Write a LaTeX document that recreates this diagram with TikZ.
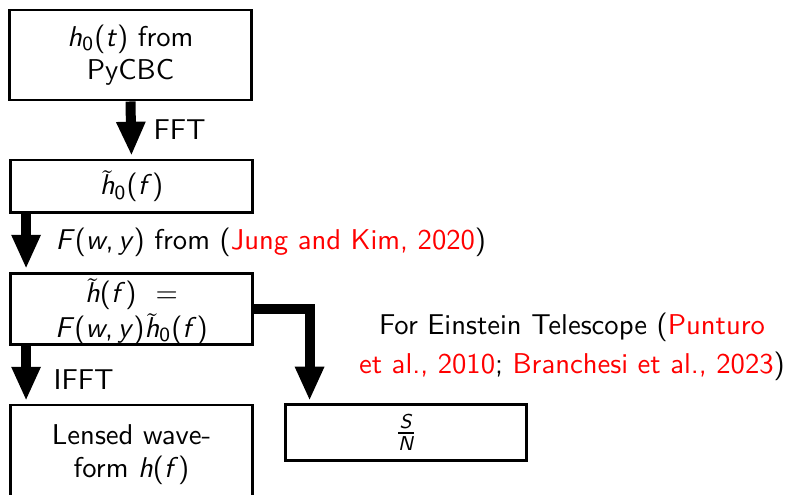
\documentclass[tikz,border=0pt]{standalone}
\usepackage{amsmath}
\usetikzlibrary{arrows.meta,calc}
\newcommand{\vv}[1]{\textit{#1}}
\newcommand{\htil}{$\tilde{\smash{\text{\textit{h}}}\vphantom{\rule{0pt}{0.58em}}}$}
\tikzset{
  box/.style={draw, line width=1.1pt, align=center, inner sep=0pt, minimum width=89.5pt},
  bigarrow/.style={line width=3.7pt, -{Triangle[length=12.6pt,width=10pt]}, shorten >=1pt},
  lbl/.style={inner sep=0pt, anchor=west}
}
\begin{document}
\begin{tikzpicture}[x=0.37pt,y=-0.37pt,font=\sffamily\fontsize{10.6}{12.2}\selectfont]
\useasboundingbox (0,0) rectangle (791,495);
\node[box, minimum width=89.2pt, minimum height=33.3pt] (b1) at (130.5,55) {\vv{h}\textsubscript{0}(\vv{t}) from\\ PyCBC};
\node[box, minimum height=19.6pt] (b2) at (131.5,186.5) {\htil\textsubscript{0}(\vv{f})};
\node[box, minimum height=26.6pt] (b3) at (131.5,309) {\rule{0pt}{10.6pt}\htil(\vv{f})\ \ =\\[0.8pt] \vv{F}(\vv{w},\,\vv{y})\htil\textsubscript{0}(\vv{f})};
\node[box, minimum height=37pt] (b4) at (131.5,455) {Lensed wave-\\ form \vv{h}(\vv{f})};
\node[box, minimum height=20.4pt] (b5) at (406,432.5) {$\frac{\text{\textit{S}}}{\text{\textit{N}}}$};
\draw[bigarrow] (b1.south) -- (b2.north);
\draw[bigarrow] ($(b2.south west)+(17,0)$) -- ($(b3.north west)+(17,0)$);
\draw[bigarrow] ($(b3.south west)+(17,0)$) -- ($(b4.north west)+(17,0)$);
\draw[bigarrow] (b3.east) -| ($(b5.north west)+(26,0)$);
\node[lbl] (lfft) at (153,130) {FFT};
\node[lbl] (lf) at (55,242) {\vv{F}(\vv{w},\,\vv{y}) from (\textcolor{red}{Jung and Kim, 2020})};
\node[lbl] (lifft) at (53,380) {IFFT};
\node[align=center, inner sep=0pt] (let) at (572,347) {For Einstein Telescope (\textcolor{red}{Punturo}\\[2pt] \textcolor{red}{et al., 2010}; \textcolor{red}{Branchesi et al., 2023})};
\end{tikzpicture}
\end{document}
